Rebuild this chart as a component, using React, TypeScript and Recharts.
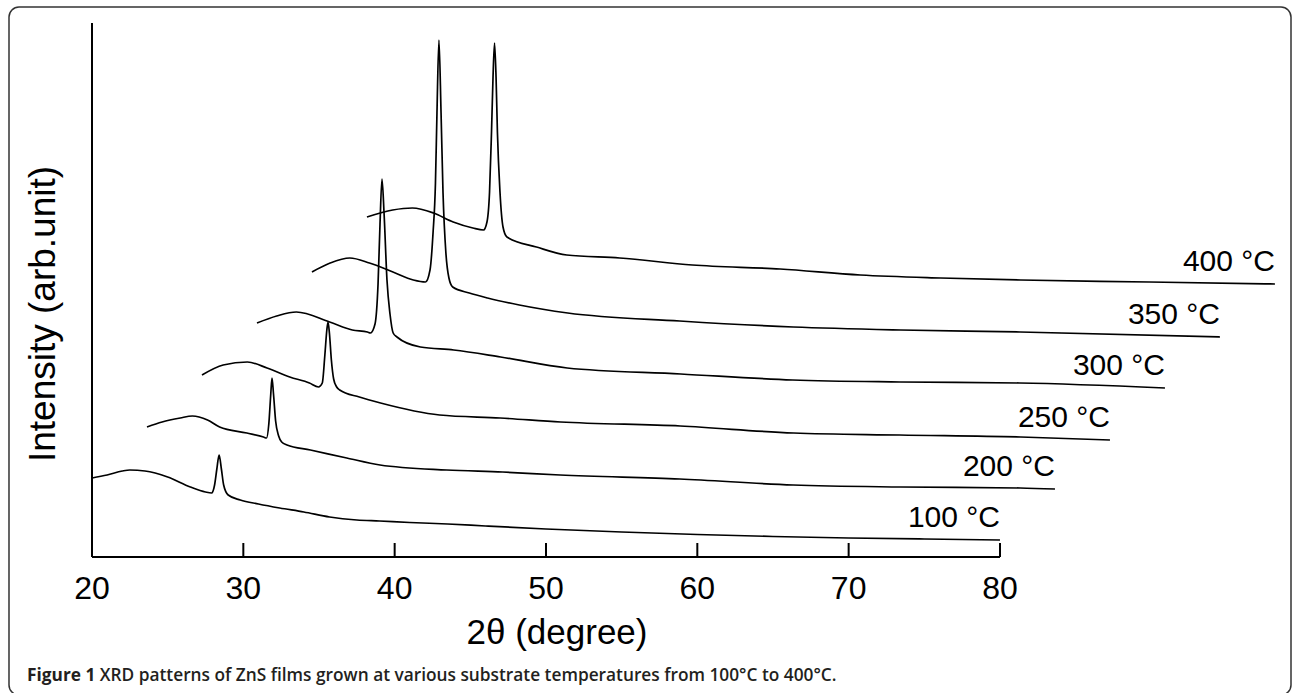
import React from 'react';
import { LineChart, Line, XAxis, YAxis, ReferenceLine } from 'recharts';

// Tick labels of the 2θ axis
const X_TICKS = [20, 30, 40, 50, 60, 70, 80];

// Series labels (substrate temperature)
const TEMPS = ['100 °C', '200 °C', '250 °C', '300 °C', '350 °C', '400 °C'];

const theta100 = [20, 21, 22, 22.5, 23.5, 25, 26.5, 27.5, 27.9, 28.1, 28.25, 28.4, 28.55, 28.7, 29, 29.8, 31, 32.4, 34, 35.7, 37.5, 39, 41, 43.5, 46, 50, 55, 60, 65, 70, 75, 80];
const int100 = [79, 82, 86, 87, 86, 80, 70, 65, 64, 72, 88, 102, 88, 72, 62, 57, 53, 49, 45, 40, 37, 36, 34.5, 33, 31, 28, 25, 22.5, 20.5, 19, 18, 17];

const theta200 = [20, 21, 22.2, 23, 24, 24.8, 26.6, 27.7, 27.9, 28.05, 28.18, 28.26, 28.36, 28.5, 28.7, 28.9, 29.25, 30.8, 33.2, 35.4, 39.8, 43.5, 47.3, 55.2, 62.7, 69.8, 77.7, 80];
const int200 = [79, 84, 88, 90, 86, 79, 73, 69, 68, 82, 112, 128, 112, 85, 70, 64, 61, 56, 48, 41, 36, 34, 31, 27, 21, 19, 18, 17];

const theta250 = [20, 21.4, 23, 24.3, 25.8, 27.1, 27.7, 27.95, 28.12, 28.25, 28.33, 28.42, 28.55, 28.7, 28.9, 29.1, 30.4, 31.8, 35.7, 39.7, 43.7, 51.6, 59.1, 66.1, 74.1, 80];
const int250 = [80, 90, 93, 87, 78, 72, 68, 72, 100, 125, 133, 122, 95, 76, 68, 65, 58, 52, 40, 37, 33, 29, 22, 20, 18, 15];

const theta300 = [20, 21.3, 22.6, 24.8, 26.3, 27.3, 27.5, 27.8, 28.0, 28.13, 28.26, 28.4, 28.59, 28.79, 29.0, 29.25, 30.8, 33.0, 36.1, 40.5, 48.0, 55.4, 62.5, 70.4, 80];
const int300 = [81, 88, 92, 82, 74, 72, 71, 80, 120, 180, 225, 190, 124, 90, 71, 67, 57, 54, 47, 36, 30, 24, 22, 21, 16];

const theta350 = [20, 21.2, 22.5, 23.8, 25.35, 26.7, 27.5, 27.8, 28.0, 28.16, 28.26, 28.39, 28.53, 28.66, 28.85, 29.05, 29.3, 30.4, 31.6, 33.7, 36.9, 44.3, 51.8, 58.9, 66.8, 80];
const int350 = [81, 90, 95, 90, 81, 73, 71, 83, 120, 170, 240, 313, 240, 160, 100, 75, 66, 60, 55, 48, 40, 32, 26, 23, 21, 16];

const theta400 = [20, 21.7, 23.0, 24.4, 25.7, 27.0, 27.7, 27.93, 28.1, 28.23, 28.33, 28.43, 28.53, 28.62, 28.79, 28.99, 29.25, 31.2, 33.2, 36.7, 41.5, 47.3, 52.6, 57.9, 63.2, 71.7, 80];
const int400 = [85, 92, 94, 89, 80, 74, 72, 80, 110, 170, 225, 259, 225, 170, 110, 75, 65, 55, 47, 44, 37, 33, 27, 24, 22, 20, 18];

// Waterfall offsets between successive patterns
const X_STEP = 3.634;
const Y_STEP = 51;

const SERIES = [
  { name: TEMPS[0], theta: theta100, intensity: int100 },
  { name: TEMPS[1], theta: theta200, intensity: int200 },
  { name: TEMPS[2], theta: theta250, intensity: int250 },
  { name: TEMPS[3], theta: theta300, intensity: int300 },
  { name: TEMPS[4], theta: theta350, intensity: int350 },
  { name: TEMPS[5], theta: theta400, intensity: int400 },
];

const curves = SERIES.map((s, k) => ({
  name: s.name,
  data: s.theta.map((t, i) => ({ x: t + k * X_STEP, y: s.intensity[i] + k * Y_STEP })),
}));

const FONT = '"Liberation Sans", Arial, Helvetica, sans-serif';

const XTick = (props: any) => {
  const { x, y, payload } = props;
  return (
    <text x={x} y={y + 42} textAnchor="middle" fontSize={32} fontFamily={FONT} fill="#000">
      {payload.value}
    </text>
  );
};

const makeEndLabel = (name: string, count: number) => (props: any) => {
  if (props.index !== count - 1) return <g />;
  const vx = props.viewBox && props.viewBox.x != null ? props.viewBox.x : props.x;
  const vy = props.viewBox && props.viewBox.y != null ? props.viewBox.y : props.y;
  return (
    <text x={vx} y={vy - 13} textAnchor="end" fontSize={30} fontFamily={FONT} fill="#000">
      {name}
    </text>
  );
};

export default function App() {
  return (
    <div style={{ position: 'absolute', left: 0, top: 0, width: 1292, height: 693, background: '#fff' }}>
      <div style={{ position: 'absolute', left: 0, top: 0 }}>
        <LineChart width={1292} height={693} margin={{ top: 23, right: 4.5, bottom: 96, left: 92 }}>
          <XAxis
            type="number"
            dataKey="x"
            domain={[20, 99]}
            ticks={X_TICKS}
            interval={0}
            allowDataOverflow
            axisLine={false}
            tickLine={false}
            tickSize={0}
            tickMargin={0}
            height={40}
            tick={<XTick />}
          />
          <YAxis type="number" dataKey="y" domain={[0, 534]} hide allowDataOverflow />
          <ReferenceLine segment={[{ x: 20, y: 0 }, { x: 20, y: 534 }]} stroke="#000" strokeWidth={2} />
          <ReferenceLine segment={[{ x: 20, y: 0 }, { x: 80, y: 0 }]} stroke="#000" strokeWidth={2} />
          {X_TICKS.slice(1).map((t) => (
            <ReferenceLine key={t} segment={[{ x: t, y: 0 }, { x: t, y: 14 }]} stroke="#000" strokeWidth={2} />
          ))}
          {curves.map((c) => (
            <Line
              key={c.name}
              data={c.data}
              dataKey="y"
              type="monotone"
              stroke="#000"
              strokeWidth={1.7}
              dot={false}
              activeDot={false}
              isAnimationActive={false}
              label={makeEndLabel(c.name, c.data.length)}
            />
          ))}
        </LineChart>
      </div>
      <svg width={1292} height={693} style={{ position: 'absolute', left: 0, top: 0, pointerEvents: 'none' }}>
        <rect x={9} y={7} width={1282} height={688} rx={10} ry={10} fill="none" stroke="#333" strokeWidth={1.5} />
        <text
          transform="translate(55,314) rotate(-90)"
          textAnchor="middle"
          fontSize={37}
          fontFamily={FONT}
          fill="#000"
        >
          Intensity (arb.unit)
        </text>
        <text x={557} y={644} textAnchor="middle" fontSize={35} fontFamily={FONT} fill="#000">
          2θ (degree)
        </text>
        <text x={27} y={681} fontSize={17.3} fontFamily='"Open Sans", "Noto Sans", sans-serif' fill="#231f20" fontWeight={600}>
          <tspan fontWeight={700}>Figure 1</tspan> XRD patterns of ZnS films grown at various substrate temperatures from 100°C to 400°C.
        </text>
      </svg>
    </div>
  );
}
